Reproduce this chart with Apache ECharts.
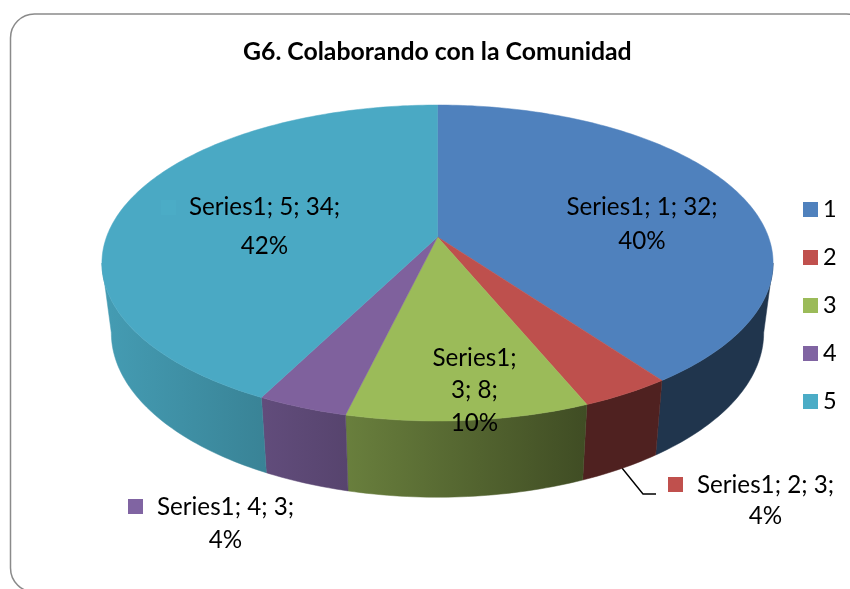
<!DOCTYPE html>
<html>
<head>
<meta charset="utf-8">
<style>html,body{margin:0;padding:0;background:#fff}#c{width:850px;height:589px}</style>
<script src="https://cdn.jsdelivr.net/npm/echarts@6/dist/echarts.min.js"></script>
</head>
<body>
<div id="c"></div>
<script>
var titleText = 'G6. Colaborando con la Comunidad';
var seriesLabel = 'Series1';
var categories = ['1', '2', '3', '4', '5'];
var values = [32, 3, 8, 3, 34];
var percentLabels = ['40%', '4%', '10%', '4%', '42%'];
var colors = ['#4f81bd', '#c0504d', '#9bbb59', '#8064a2', '#4bacc6'];
var topColors = ['#4f81bd', '#be504d', '#9bbb59', '#7f619d', '#4aa9c4'];
var FONT = 'Lato, "Open Sans", sans-serif';

/* perspective disc layout */
var CX = 437.5, CY = 237, R = 331, S = 153.7, K = 0.1646;
var R2 = R * 0.972, S2 = 160, D2 = 68.7;
var labelFont = '400 24.2px ' + FONT;
var EDGE_A = 99.5;
/* label layout: center x, y of each line, key square, line grouping */
var labelLayout = [
  {x: 642, ys: [207, 241], wrap: [3], key: [538, 200]},
  {x: 765.5, ys: [485, 516], wrap: [3], key: [668, 477]},
  {x: 474.5, ys: [358, 390, 423], wrap: [1, 3], key: [403, 348]},
  {x: 225.5, ys: [507, 540], wrap: [3], key: [128, 499]},
  {x: 264.5, ys: [207, 246], wrap: [3], key: [161, 200]}
];
var shadeStops = [[110, .90], [265, .76], [346, .68], [585, .41]];

var total = values.reduce(function (a, b) { return a + b; }, 0);
function project(deg, rx, ry, dy) {
  var a = deg * Math.PI / 180, u = Math.sin(a), v = -Math.cos(a), w = 1 - K * v;
  return [CX + rx * u / w, CY + dy + ry * v / w];
}
function scaleColor(hex, f) {
  var n = parseInt(hex.slice(1), 16);
  return 'rgb(' + Math.round((n >> 16 & 255) * f) + ',' + Math.round((n >> 8 & 255) * f) + ',' + Math.round((n & 255) * f) + ')';
}
function sideFill(idx) {
  var x0 = shadeStops[0][0], x1 = shadeStops[shadeStops.length - 1][0];
  return new echarts.graphic.LinearGradient(x0, 0, x1, 0, shadeStops.map(function (s) {
    return {offset: (s[0] - x0) / (x1 - x0), color: scaleColor(colors[idx], s[1])};
  }), true);
}
function makeRender(idx) {
  return function (params, api) {
    var val = api.value(0), before = 0;
    for (var i = 0; i < idx; i++) before += values[i];
    var a1 = before / total * 360, a2 = (before + val) / total * 360;
    var children = [];
    if (idx === 1) {
      children.push({type: 'polyline', shape: {points: [[622, 468], [643, 494], [656, 494]]},
        style: {stroke: '#000', lineWidth: 1.4, fill: null}});
    }
    var lo = Math.max(a1, EDGE_A), hi = Math.min(a2, 360 - EDGE_A), topArc = [], botArc = [], t;
    if (hi > lo) {
      for (t = lo; t < hi; t += 1) { topArc.push(project(t, R, S, 0)); botArc.unshift(project(t, R2, S2, D2)); }
      topArc.push(project(hi, R, S, 0)); botArc.unshift(project(hi, R2, S2, D2));
      var fill = sideFill(idx);
      children.push({type: 'polygon', shape: {points: topArc.concat(botArc)},
        style: {fill: fill, stroke: fill, lineWidth: 0.5}});
    }
    var pts = [[CX, CY]];
    for (t = a1; t < a2; t += 1) pts.push(project(t, R, S, 0));
    pts.push(project(a2, R, S, 0));
    children.push({type: 'polygon', shape: {points: pts},
      style: {fill: topColors[idx], stroke: topColors[idx], lineWidth: 0.5}});
    var L = labelLayout[idx];
    children.push({type: 'rect', shape: {x: L.key[0], y: L.key[1], width: 15, height: 15},
      style: {fill: colors[idx]}});
    var parts = [seriesLabel + ';', categories[idx] + ';', val + ';', percentLabels[idx]];
    var from = 0;
    L.wrap.concat([4]).forEach(function (end, li) {
      children.push({type: 'text', x: L.x, y: L.ys[li],
        style: {text: parts.slice(from, end).join(' '), font: labelFont, fill: '#000',
          align: 'center', verticalAlign: 'middle'}});
      from = end;
    });
    return {type: 'group', children: children};
  };
}
var chart = echarts.init(document.getElementById('c'), null, {renderer: 'canvas'});
chart.setOption({
  animation: false,
  backgroundColor: '#fff',
  title: {text: titleText, left: 243, top: 40, padding: 0,
    textStyle: {fontFamily: FONT, fontWeight: 'bold', fontSize: 24.8, color: '#000'}},
  legend: {orient: 'vertical', left: 803, top: 197.5, padding: 0, icon: 'rect', itemWidth: 15, itemHeight: 15, itemGap: 24,
    data: categories, selectedMode: false,
    textStyle: {fontFamily: FONT, fontSize: 23.5, color: '#000', lineHeight: 15}},
  graphic: [{type: 'rect', z: -1, silent: true,
    shape: {x: 10.5, y: 14, width: 860, height: 578, r: 24},
    style: {fill: '#fff', stroke: '#8a8a8a', lineWidth: 1.5}}],
  series: categories.map(function (c, i) {
    return {type: 'custom', name: c, coordinateSystem: 'none', silent: true,
      itemStyle: {color: colors[i]}, clip: false,
      data: [[values[i]]], renderItem: makeRender(i)};
  })
});
</script>
</body>
</html>
